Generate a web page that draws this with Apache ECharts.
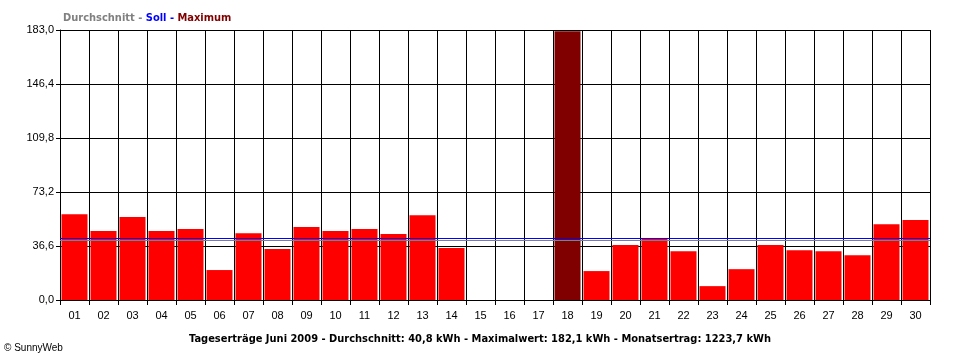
<!DOCTYPE html>
<html>
<head>
<meta charset="utf-8">
<script src="https://cdn.jsdelivr.net/npm/echarts@6/dist/echarts.min.js"></script>
<style>
html,body{margin:0;padding:0;background:#fff;}
#chart{width:960px;height:360px;}
</style>
</head>
<body>
<div id="chart"></div>
<script>
var days = ['01','02','03','04','05','06','07','08','09','10','11','12','13','14','15','16','17','18','19','20','21','22','23','24','25','26','27','28','29','30'];
var yields = [58.2,46.7,56.2,46.7,48.1,20.3,45.3,34.5,49.4,46.7,48.1,44.7,57.5,35.2,0,0,0,182.1,19.6,37.2,42.0,33.1,9.4,20.9,37.2,33.8,33.1,30.4,51.4,54.2];
var averageValue = 40.8;
var targetValue = 42.0;
var yTicks = [0, 36.6, 73.2, 109.8, 146.4, 183.0];
var legendText = ['Durchschnitt - ', 'Soll - ', 'Maximum'];
var footerText = 'Tageserträge Juni 2009 - Durchschnitt: 40,8 kWh - Maximalwert: 182,1 kWh - Monatsertrag: 1223,7 kWh';
var copyrightText = '© SunnyWeb';

var maxVal = Math.max.apply(null, yields);
var chart = echarts.init(document.getElementById('chart'), null, {renderer: 'canvas'});
var fontMain = 'Liberation Sans';
var fontBold = 'DejaVu Sans Condensed';

chart.setOption({
  animation: false,
  backgroundColor: '#ffffff',
  grid: {left: 60, right: 30, top: 30, bottom: 60, containLabel: false},
  title: [
    {
      left: 58, top: 8,
      text: '{a|' + legendText[0] + '}{b|' + legendText[1] + '}{c|' + legendText[2] + '}',
      textStyle: {
        rich: {
          a: {color: '#808080', fontFamily: fontBold, fontWeight: 'bold', fontSize: 11},
          b: {color: '#0000ff', fontFamily: fontBold, fontWeight: 'bold', fontSize: 11},
          c: {color: '#800000', fontFamily: fontBold, fontWeight: 'bold', fontSize: 11}
        }
      }
    },
    {
      left: 'center', top: 329,
      text: footerText,
      textStyle: {color: '#000', fontFamily: fontBold, fontWeight: 'bold', fontSize: 11}
    }
  ],
  graphic: [
    {type: 'text', left: 4, top: 343, style: {text: copyrightText, fill: '#000', font: '10px "Liberation Sans"'}}
  ],
  xAxis: {
    type: 'category',
    data: days,
    boundaryGap: true,
    axisLine: {show: true, lineStyle: {color: '#000', width: 1}},
    axisTick: {show: true, alignWithLabel: false, length: 5, lineStyle: {color: '#000'}},
    axisLabel: {color: '#000', fontFamily: fontMain, fontSize: 11, margin: 10},
    splitLine: {show: true, lineStyle: {color: '#000', width: 1}}
  },
  yAxis: {
    type: 'value',
    min: 0, max: yTicks[yTicks.length - 1], interval: yTicks[1],
    axisLine: {show: true, lineStyle: {color: '#000', width: 1}},
    axisTick: {show: true, length: 4, lineStyle: {color: '#000'}},
    axisLabel: {color: '#000', fontFamily: fontMain, fontSize: 11, margin: 6,
      formatter: function (v) { return v.toFixed(1).replace('.', ','); }},
    splitLine: {show: true, lineStyle: {color: '#000', width: 1}}
  },
  series: [
    {
      type: 'bar',
      data: yields.map(function (v) {
        return {value: v, itemStyle: {color: v === maxVal ? '#800000' : '#ff0000'}};
      }),
      barWidth: 26,
      z: 2,
      markLine: {
        silent: true,
        symbol: 'none',
        label: {show: false},
        z: 5,
        data: [
          {yAxis: averageValue, lineStyle: {color: '#808080', width: 1, type: 'solid'}},
          {yAxis: targetValue, lineStyle: {color: '#0000ff', width: 1, type: 'solid'}}
        ]
      }
    }
  ]
});
</script>
</body>
</html>
